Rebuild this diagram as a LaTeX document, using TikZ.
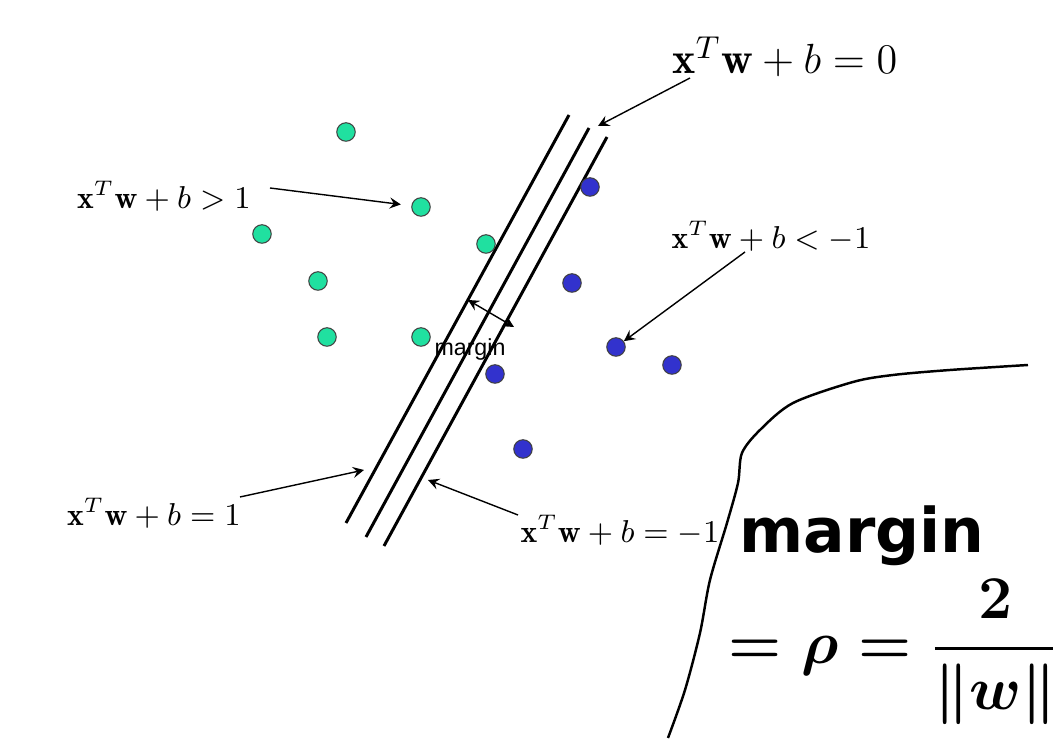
\documentclass[tikz,border=0pt]{standalone}
\usepackage{amsmath}
\usepackage{fontspec}
\newfontfamily\arialfont{Liberation Sans}
\newfontfamily\handfont{DejaVu Sans}
\definecolor{posgreen}{RGB}{32,224,160}
\definecolor{negblue}{RGB}{50,50,205}
\begin{document}
\begin{tikzpicture}[x=0.01cm,y=-0.01cm,
  posdot/.style={circle,draw=black!75,fill=posgreen,line width=0.3pt,minimum size=0.185cm,inner sep=0pt},
  negdot/.style={posdot,fill=negblue},
  eq/.style={font=\fontsize{9}{11}\selectfont,inner sep=1pt},
  plane/.style={line width=0.85pt},
  pointer/.style={->,line width=0.4pt,>=stealth}]
\useasboundingbox (0,0) rectangle (1053,740);
% hyperplanes
\coordinate (a1) at (569,115);\coordinate (b1) at (346,523);
\coordinate (a0) at (589,128);\coordinate (b0) at (366,537);
\coordinate (a2) at (607,137);\coordinate (b2) at (384,546);
\draw[plane] (a1)--(b1);\draw[plane] (a0)--(b0);\draw[plane] (a2)--(b2);
% points
\node[posdot] (p1) at (346,132){};\node[posdot] (p2) at (421,207){};\node[posdot] (p3) at (262,234){};
\node[posdot] (p4) at (486,244){};\node[posdot] (p5) at (318,281){};\node[posdot] (p6) at (327,337){};
\node[posdot] (p7) at (421,337){};
\node[negdot] (n1) at (590,187){};\node[negdot] (n2) at (572,283){};\node[negdot] (n3) at (616,347){};
\node[negdot] (n4) at (672,365){};\node[negdot] (n5) at (495,374){};\node[negdot] (n6) at (523,449){};
% labels
\node[eq,font=\fontsize{12.5}{14}\selectfont] (l0) at (785,57){$\mathbf{x}^T\mathbf{w}+b=0$};
\node[eq] (lgt) at (164,196){$\mathbf{x}^T\mathbf{w}+b>1$};
\node[eq] (llt) at (771,236){$\mathbf{x}^T\mathbf{w}+b<-1$};
\node[eq] (lp) at (154,513){$\mathbf{x}^T\mathbf{w}+b=1$};
\node[eq] (lm) at (620,530){$\mathbf{x}^T\mathbf{w}+b=-1$};
\coordinate (e0) at (598,126);\coordinate (ep) at (364,470);\coordinate (em) at (428,480);
\coordinate (s0) at (690,78);\coordinate (sgt) at (270,188);\coordinate (slt) at (745,252);
\coordinate (sp) at (240,497);\coordinate (sm) at (518,515);
\draw[pointer] (s0) -- (e0);
\draw[pointer,shorten >=3pt] (sgt) -- (p2);
\draw[pointer] (slt) -- (n3);
\draw[pointer] (sp) -- (ep);
\draw[pointer] (sm) -- (em);
% margin
\coordinate (m1) at (468,300);\coordinate (m2) at (514,327);
\draw[<->,line width=0.4pt,>=stealth] (m1)--(m2);
\node[font=\arialfont\fontsize{6.6}{8}\selectfont,inner sep=0pt] (mtxt) at (470,350){margin};
% handwritten note
\draw[line width=0.7pt] plot[smooth] coordinates {(1028,365) (950,370) (893,375) (853,382) (793,403) (760,430) (742,453) (738,483) (727,523) (710,580) (700,633) (685,690) (668,738)};
\node[font=\handfont\bfseries\fontsize{17.5}{20}\selectfont,inner sep=0pt] (hm) at (862,536){margin};
\node[font=\boldmath\fontsize{17}{20}\selectfont,inner sep=0pt] (hf) at (895,652){$\displaystyle =\rho=\dfrac{2}{\lVert w\rVert}$};
\end{tikzpicture}
\end{document}
